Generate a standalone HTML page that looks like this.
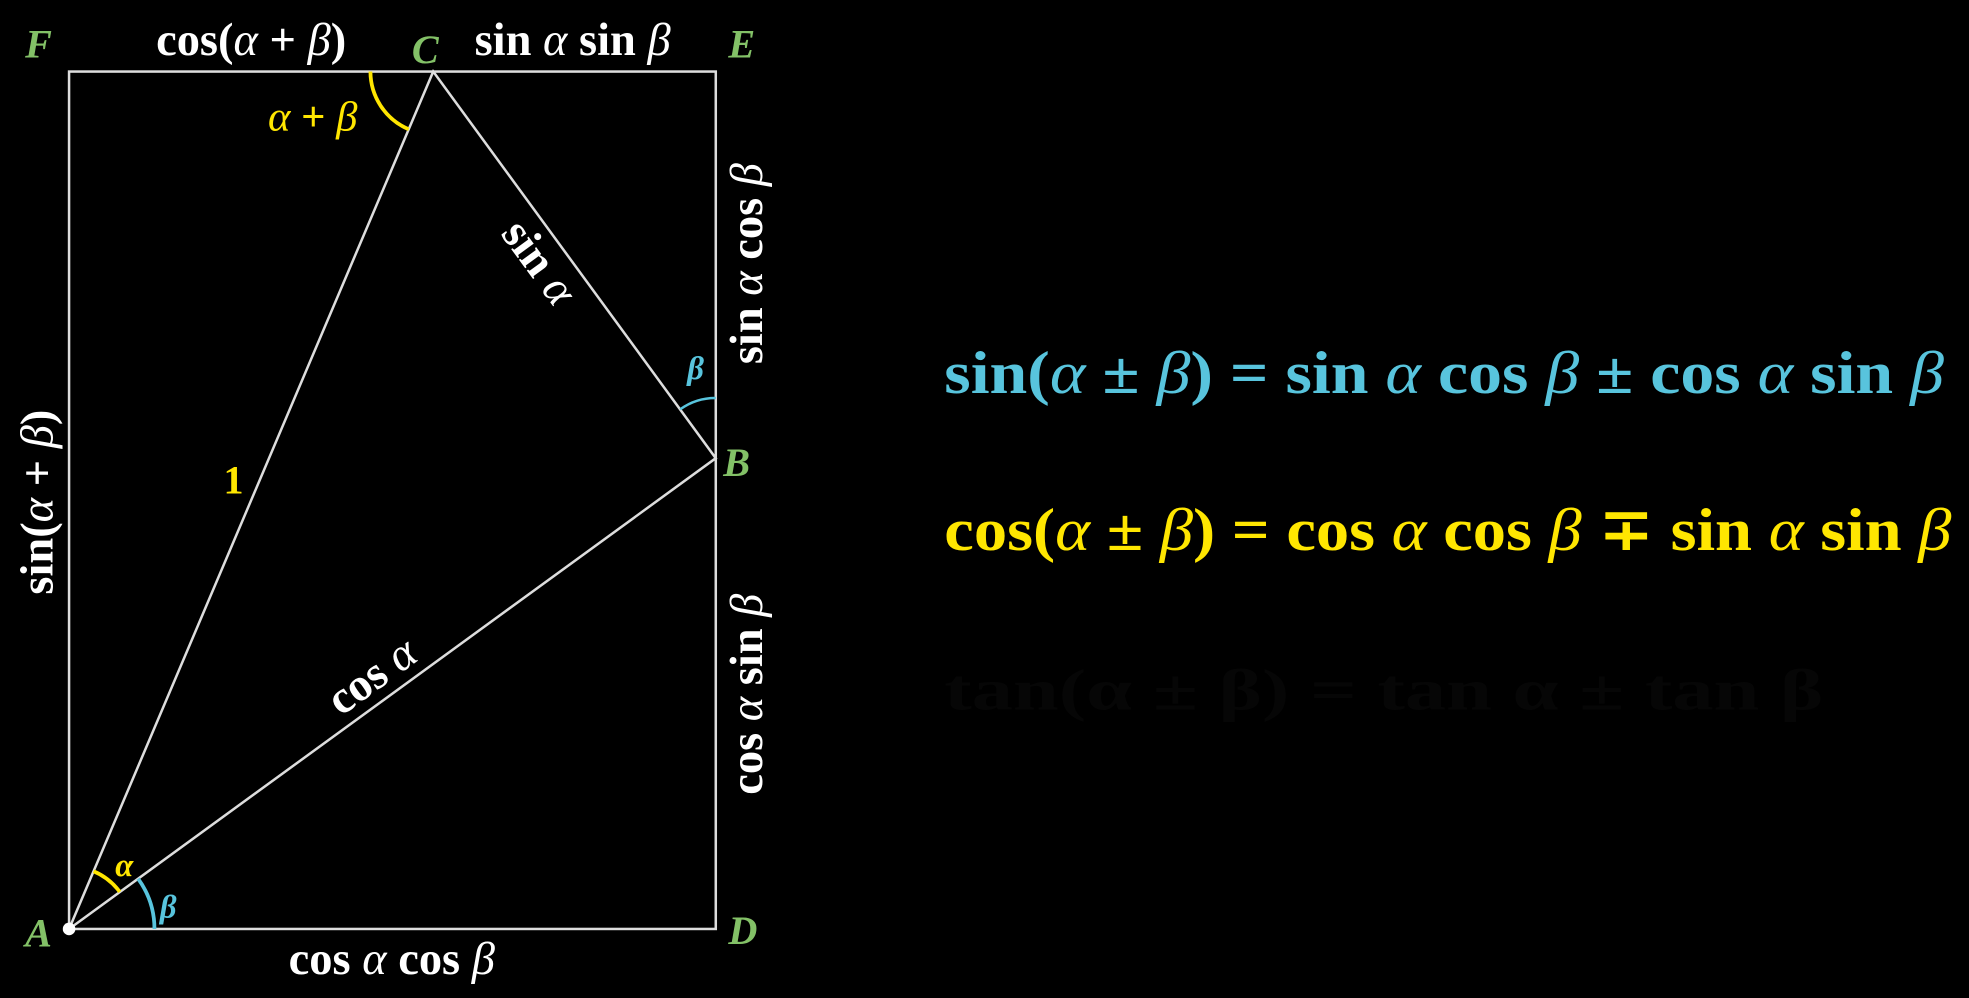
<!DOCTYPE html>
<html><head><meta charset="utf-8"><style>
html,body{margin:0;padding:0;background:#000;}
svg{display:block;}
text{font-family:"Liberation Serif","DejaVu Serif",serif;font-weight:bold;}
.g{fill:#83c167;font-style:italic;font-size:32px;}
.w{fill:#fff;font-size:37px;}
.i{font-style:italic;font-weight:normal;}
</style></head><body>
<svg width="1969" height="998" viewBox="0 0 1568 795" preserveAspectRatio="none">
<rect x="0" y="0" width="1568" height="795" fill="#000"/>
<rect x="55" y="57" width="515" height="683" fill="none" stroke="#ddd" stroke-width="2"/>
<polygon points="55,740 345,57 570,365" fill="none" stroke="#ddd" stroke-width="2"/>
<path d="M295,57 A50,50 0 0 0 325.5,103" fill="none" stroke="#ffe600" stroke-width="3"/>
<path d="M570,317 A48,48 0 0 0 541.7,326" fill="none" stroke="#58c4dd" stroke-width="2"/>
<path d="M74.5,694 A50,50 0 0 1 95.4,710.5" fill="none" stroke="#ffe600" stroke-width="3"/>
<path d="M110,700 A68,68 0 0 1 123,740" fill="none" stroke="#58c4dd" stroke-width="3"/>
<circle cx="55" cy="740" r="5" fill="#fff"/>

<text class="g" x="20" y="46">F</text>
<text class="g" x="328" y="50" font-size="36">C</text>
<text class="g" x="580" y="46">E</text>
<text class="g" x="576" y="379">B</text>
<text class="g" x="580" y="752">D</text>
<text class="g" x="20" y="754">A</text>

<text class="w" x="200" y="44" text-anchor="middle">cos(<tspan class="i">α</tspan> + <tspan class="i">β</tspan>)</text>
<text class="w" x="456" y="44" text-anchor="middle">sin <tspan class="i">α</tspan> sin <tspan class="i">β</tspan></text>
<text x="249" y="104" text-anchor="middle" fill="#ffe600" font-size="34"><tspan class="i">α</tspan> + <tspan class="i">β</tspan></text>
<text class="w" transform="translate(607,210) rotate(-90)" text-anchor="middle">sin <tspan class="i">α</tspan> cos <tspan class="i">β</tspan></text>
<text class="w" transform="translate(607,553) rotate(-90)" text-anchor="middle">cos <tspan class="i">α</tspan> sin <tspan class="i">β</tspan></text>
<text class="w" transform="translate(42,400) rotate(-90)" text-anchor="middle">sin(<tspan class="i">α</tspan> + <tspan class="i">β</tspan>)</text>
<text class="w" transform="translate(420,216) rotate(53.8)" text-anchor="middle">sin <tspan class="i">α</tspan></text>
<text x="186" y="393" text-anchor="middle" fill="#ffe600" font-size="32">1</text>
<text class="w" transform="translate(303,548) rotate(-36)" text-anchor="middle">cos <tspan class="i">α</tspan></text>
<text class="w" x="312" y="776" text-anchor="middle">cos <tspan class="i">α</tspan> cos <tspan class="i">β</tspan></text>
<text x="99" y="698" text-anchor="middle" fill="#ffe600" font-size="26" font-style="italic">α</text>
<text x="134" y="731" text-anchor="middle" fill="#58c4dd" font-size="26" font-style="italic">β</text>
<text x="554" y="302" text-anchor="middle" fill="#58c4dd" font-size="26" font-style="italic">β</text>

<text x="752" y="313" fill="#58c4dd" font-size="48" textLength="796" lengthAdjust="spacingAndGlyphs">sin(<tspan class="i">α</tspan> ± <tspan class="i">β</tspan>) = sin <tspan class="i">α</tspan> cos <tspan class="i">β</tspan> ± cos <tspan class="i">α</tspan> sin <tspan class="i">β</tspan></text>
<text x="752" y="438" fill="#ffe600" font-size="48" textLength="802" lengthAdjust="spacingAndGlyphs">cos(<tspan class="i">α</tspan> ± <tspan class="i">β</tspan>) = cos <tspan class="i">α</tspan> cos <tspan class="i">β</tspan> ∓ sin <tspan class="i">α</tspan> sin <tspan class="i">β</tspan></text>
<text x="752" y="565" fill="#060606" font-size="46" textLength="700" lengthAdjust="spacingAndGlyphs">tan(α ± β) = tan α ± tan β</text>
</svg>
</body></html>
